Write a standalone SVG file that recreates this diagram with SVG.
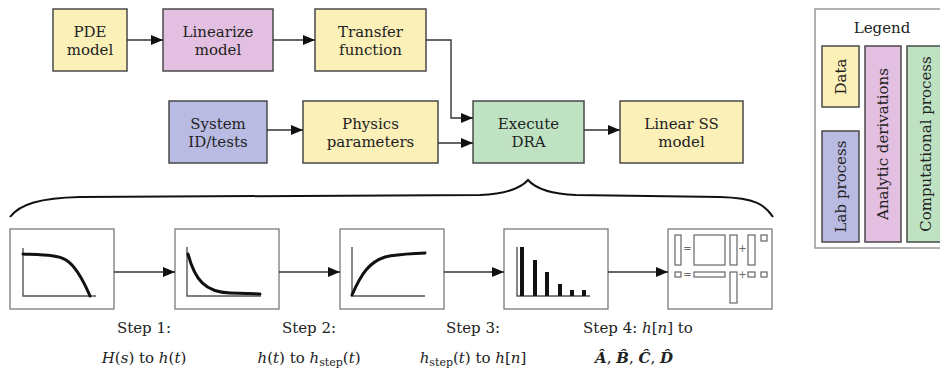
<svg xmlns="http://www.w3.org/2000/svg" width="940" height="372" viewBox="0 0 940 372">
<style>
text{font-family:"DejaVu Serif","Liberation Serif",serif;font-size:15px;fill:#222}
.c{text-anchor:middle}
.i{font-style:italic}
.sub{font-size:11px}
.bi{font-style:italic;font-weight:bold}
.node rect{stroke:#4a4a4a;stroke-width:1.5}
.y{fill:#fbf0b7}.p{fill:#e3bfe1}.b{fill:#babbe2}.g{fill:#bfe2c2}
.step rect.box{fill:#fff;stroke:#7a7a7a;stroke-width:1.3}
.ax{fill:none;stroke:#555;stroke-width:1.4}
.cv{fill:none;stroke:#111;stroke-width:3;stroke-linecap:round}
.step rect.bar{fill:#111;stroke:none}
.step rect.m{fill:#fff;stroke:#666;stroke-width:1.2}
.op{font-family:"DejaVu Sans",sans-serif;font-size:10px;fill:#666;text-anchor:middle}
.conn path,.conn line{fill:none;stroke:#333;stroke-width:1.4}
</style>
<defs>
<marker id="ah" viewBox="0 0 12 10" refX="12" refY="5" markerWidth="12" markerHeight="10" markerUnits="userSpaceOnUse" orient="auto">
<path d="M0,0 L12,5 L0,10 Z" fill="#111"/>
</marker>
</defs>

<g id="pde" class="node"><rect class="y" x="53" y="9" width="74" height="62"/><text class="c" x="90" y="37">PDE</text><text class="c" x="90" y="55">model</text></g>
<g id="linearize" class="node"><rect class="p" x="163" y="9" width="110" height="62"/><text class="c" x="218" y="37">Linearize</text><text class="c" x="218" y="55">model</text></g>
<g id="transfer" class="node"><rect class="y" x="315" y="9" width="111" height="62"/><text class="c" x="370.5" y="37">Transfer</text><text class="c" x="370.5" y="55">function</text></g>
<g id="sysid" class="node"><rect class="b" x="169" y="101" width="98" height="62"/><text class="c" x="218" y="129">System</text><text class="c" x="218" y="147">ID/tests</text></g>
<g id="physics" class="node"><rect class="y" x="303" y="101" width="135" height="62"/><text class="c" x="370.5" y="129">Physics</text><text class="c" x="370.5" y="147">parameters</text></g>
<g id="dra" class="node"><rect class="g" x="473" y="101" width="111" height="62"/><text class="c" x="528.5" y="129">Execute</text><text class="c" x="528.5" y="147">DRA</text></g>
<g id="linss" class="node"><rect class="y" x="620" y="101" width="123" height="62"/><text class="c" x="681.5" y="129">Linear SS</text><text class="c" x="681.5" y="147">model</text></g>

<g id="legend">
<rect x="815" y="9" width="135" height="239" fill="#fff" stroke="#888" stroke-width="1.3"/>
<text class="c" x="882" y="33">Legend</text>
<g class="node">
<rect class="y" x="822" y="46" width="37" height="61"/>
<rect class="b" x="822" y="131" width="37" height="111"/>
<rect class="p" x="865" y="46" width="36" height="196"/>
<rect class="g" x="907" y="46" width="38" height="196"/>
</g>
<text class="c" transform="translate(840.5,76.5) rotate(-90)" dominant-baseline="central">Data</text>
<text class="c" transform="translate(840.5,186.5) rotate(-90)" dominant-baseline="central">Lab process</text>
<text class="c" transform="translate(883,144) rotate(-90)" dominant-baseline="central">Analytic derivations</text>
<text class="c" transform="translate(926,144) rotate(-90)" dominant-baseline="central">Computational process</text>
</g>

<g id="brace"><path d="M10,217 C20,204 40,198 80,197 L480,195 C505,194 520,189 528,180 C536,189 551,194 576,195 L720,197 C756,198 765,205 773,217" fill="none" stroke="#111" stroke-width="2"/></g>

<g id="step1" class="step"><rect class="box" x="10" y="229" width="104" height="80"/>
<path class="ax" d="M23,248 V296 H96"/>
<path class="cv" d="M23,254 C45,255 58,255 66,260 C76,266 84,282 90,296"/></g>
<g id="step2" class="step"><rect class="box" x="175" y="229" width="104" height="80"/>
<path class="ax" d="M187,247 V296 H261"/>
<path class="cv" d="M188,254 C195,280 205,292 230,293 L260,294"/></g>
<g id="step3" class="step"><rect class="box" x="340" y="229" width="104" height="80"/>
<path class="ax" d="M352,247 V296 H425"/>
<path class="cv" d="M352,295 C362,272 370,262 385,257 C398,254 410,254 425,253"/></g>
<g id="step4" class="step"><rect class="box" x="504" y="229" width="104" height="80"/>
<path class="ax" d="M517,247 V296 H590"/>
<rect class="bar" x="520" y="247" width="4" height="49"/>
<rect class="bar" x="533" y="260" width="4" height="36"/>
<rect class="bar" x="545" y="272" width="4" height="24"/>
<rect class="bar" x="558" y="284" width="4" height="12"/>
<rect class="bar" x="570" y="290" width="4" height="6"/>
<rect class="bar" x="582" y="290" width="4" height="6"/></g>
<g id="step5" class="step"><rect class="box" x="668" y="229" width="104" height="80"/>
<rect class="m" x="675" y="235" width="6" height="30"/>
<text class="op" x="687.5" y="252">=</text>
<rect class="m" x="694" y="235" width="31" height="30"/>
<rect class="m" x="730" y="235" width="7" height="30"/>
<text class="op" x="742.5" y="252">+</text>
<rect class="m" x="748" y="235" width="7" height="30"/>
<rect class="m" x="761" y="235" width="6" height="6"/>
<rect class="m" x="675" y="272" width="6" height="5"/>
<text class="op" x="687.5" y="278">=</text>
<rect class="m" x="694" y="272" width="31" height="5"/>
<rect class="m" x="730" y="272" width="7" height="31"/>
<text class="op" x="742.5" y="278">+</text>
<rect class="m" x="748" y="272" width="7" height="5"/>
<rect class="m" x="761" y="272" width="6" height="5"/></g>

<g id="connectors" class="conn">
<line x1="127" y1="40" x2="163" y2="40" marker-end="url(#ah)"/>
<line x1="273" y1="40" x2="315" y2="40" marker-end="url(#ah)"/>
<path d="M426,40 H451 V118 H473" marker-end="url(#ah)"/>
<line x1="267" y1="130" x2="303" y2="130" marker-end="url(#ah)"/>
<line x1="438" y1="143" x2="473" y2="143" marker-end="url(#ah)"/>
<line x1="584" y1="130" x2="620" y2="130" marker-end="url(#ah)"/>
<line x1="114" y1="272" x2="175" y2="272" marker-end="url(#ah)"/>
<line x1="279" y1="272" x2="340" y2="272" marker-end="url(#ah)"/>
<line x1="444" y1="272" x2="504" y2="272" marker-end="url(#ah)"/>
<line x1="608" y1="272" x2="668" y2="272" marker-end="url(#ah)"/>
</g>

<g id="labels">
<text class="c" x="144" y="333">Step 1:</text>
<text class="c" x="144" y="363"><tspan class="i">H</tspan>(<tspan class="i">s</tspan>) to <tspan class="i">h</tspan>(<tspan class="i">t</tspan>)</text>
<text class="c" x="309" y="333">Step 2:</text>
<text class="c" x="309" y="363"><tspan class="i">h</tspan>(<tspan class="i">t</tspan>) to <tspan class="i">h</tspan><tspan class="sub" dy="3">step</tspan><tspan dy="-3">(</tspan><tspan class="i">t</tspan>)</text>
<text class="c" x="473" y="333">Step 3:</text>
<text class="c" x="473" y="363"><tspan class="i">h</tspan><tspan class="sub" dy="3">step</tspan><tspan dy="-3">(</tspan><tspan class="i">t</tspan>) to <tspan class="i">h</tspan>[<tspan class="i">n</tspan>]</text>
<text class="c" x="638" y="333">Step 4: <tspan class="i">h</tspan>[<tspan class="i">n</tspan>] to</text>
<text class="c" x="634" y="363"><tspan class="bi">A&#770;</tspan>, <tspan class="bi">B&#770;</tspan>, <tspan class="bi">C&#770;</tspan>, <tspan class="bi">D&#770;</tspan></text>
</g>
</svg>
